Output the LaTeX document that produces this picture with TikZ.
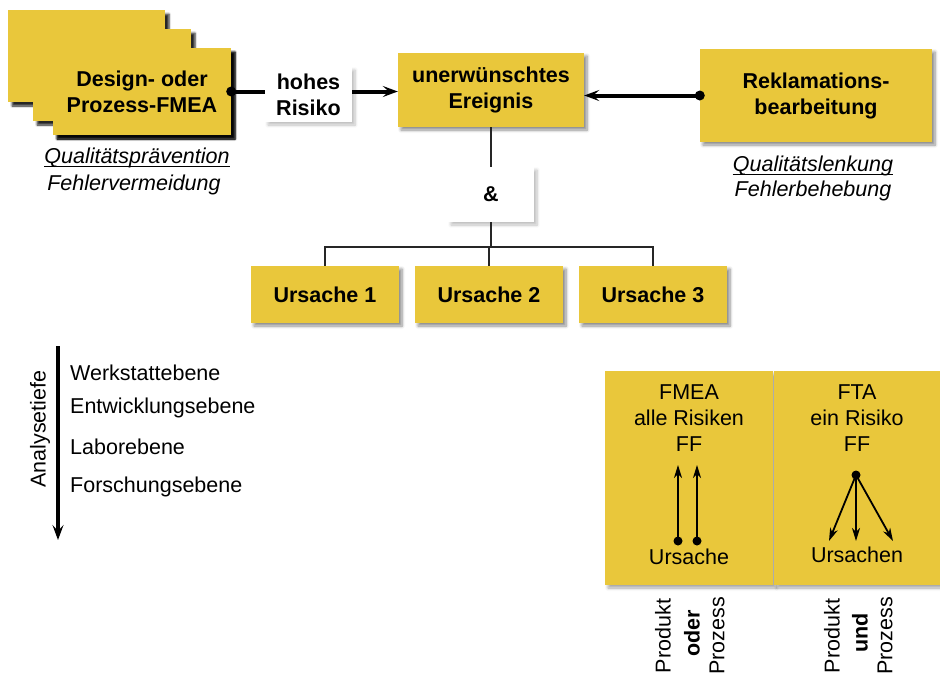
\documentclass[tikz,border=0pt]{standalone}
\usepackage{fontspec}
\setmainfont{Liberation Sans}
\usetikzlibrary{shadows.blur,arrows.meta}
\definecolor{gelb}{RGB}{233,199,59}
\tikzset{
  yellowbox/.style={fill=gelb, draw=none, inner sep=0pt, align=center,
    font=\fontsize{21.5}{26}\selectfont\bfseries,
    blur shadow={shadow xshift=3pt, shadow yshift=-3pt, shadow blur radius=3pt, shadow blur steps=6, shadow opacity=45}},
  stackbox/.style={fill=gelb, draw=none, inner sep=0pt,
    blur shadow={shadow xshift=4pt, shadow yshift=-4pt, shadow blur radius=2pt, shadow blur steps=5, shadow opacity=85}},
  whitebox/.style={fill=white, draw=none, inner sep=0pt, align=center,
    font=\fontsize{21.5}{26}\selectfont\bfseries,
    blur shadow={shadow xshift=3pt, shadow yshift=-3pt, shadow blur radius=3pt, shadow blur steps=6, shadow opacity=25}},
  panel/.style={fill=gelb, draw=none, inner sep=0pt,
    blur shadow={shadow xshift=3pt, shadow yshift=-3pt, shadow blur radius=3pt, shadow blur steps=6, shadow opacity=35}},
  plain/.style={font=\fontsize{21.5}{26}\selectfont, align=center, inner sep=0pt},
  italic/.style={font=\fontsize{21.5}{26}\selectfont\itshape, align=center, inner sep=0pt},
  boldplain/.style={font=\fontsize{21.5}{26}\selectfont\bfseries, align=center, inner sep=0pt},
  mainline/.style={line width=4pt},
  thinline/.style={line width=1.4pt, draw=black!85},
  tip/.style={-{Stealth[length=15pt,width=11pt,inset=6pt]}},
  smalltip/.style={line width=1.8pt, -{Stealth[length=13pt,width=8pt,inset=4pt]}},
}
\begin{document}
\begin{tikzpicture}[x=1pt,y=-1pt]
\useasboundingbox (0,0) rectangle (940,675);

% stacked FMEA boxes
\node[stackbox, minimum width=157pt, minimum height=92pt] (back1) at (86.5,56) {};
\node[stackbox, minimum width=158pt, minimum height=92pt] (back2) at (112,75) {};
\node[yellowbox, stackbox, minimum width=178pt, minimum height=87pt] (front) at (142,91.5) {Design- oder\\Prozess-FMEA};

\node[whitebox, minimum width=87pt, minimum height=55pt] (hohes) at (308.5,94.5) {hohes\\Risiko};
\node[yellowbox, minimum width=186pt, minimum height=74pt] (unerw) at (491,90) {unerwünschtes\\Ereignis};
\node[yellowbox, minimum width=232pt, minimum height=93pt] (rekl) at (816,95.5) {Reklamations-\\bearbeitung};

\node[italic] (qp) at (137,158) {Qualitätsprävention};
\draw[line width=1pt] ([yshift=-2.5pt]qp.base west) -- ([yshift=-2.5pt]qp.base east);
\node[italic] (fv) at (134,185) {Fehlervermeidung};
\node[italic] (ql) at (813,166) {Qualitätslenkung};
\draw[line width=1pt] ([yshift=-2.5pt]ql.base west) -- ([yshift=-2.5pt]ql.base east);
\node[italic] (fb) at (813,191) {Fehlerbehebung};

\node[whitebox, minimum width=86pt, minimum height=55pt] (amp) at (491,194.5) {\&};

\node[yellowbox, minimum width=148pt, minimum height=57pt] (u1) at (325,294.5) {Ursache 1};
\node[yellowbox, minimum width=148pt, minimum height=57pt] (u2) at (489,294.5) {Ursache 2};
\node[yellowbox, minimum width=148pt, minimum height=57pt] (u3) at (653,294.5) {Ursache 3};

% main connectors
\draw[mainline] (front.east) -- (front.east -| hohes.west);
\fill (front.east) circle (5pt);
\draw[mainline, tip] (hohes.east |- front.east) -- (unerw.west |- front.east);
\draw[mainline, tip] (rekl.west) -- (rekl.west -| unerw.east);
\fill (rekl.west) circle (5pt);

% tree
\coordinate (j) at (491,247);
\draw[thinline] (unerw.south) -- (amp.north);
\draw[thinline] (amp.south) -- (j);
\draw[thinline] (u1.north) |- (j) -| (u3.north);
\draw[thinline] (j -| u2.north) -- (u2.north);

% Analysetiefe
\coordinate (at) at (58,346);
\coordinate (ab) at (58,540);
\draw[mainline, tip] (at) -- (ab);
\node[plain, rotate=90] (al) at (40,429) {Analysetiefe};
\node[plain, anchor=west] (w1) at (70,373) {Werkstattebene};
\node[plain, anchor=west] (w2) at (70,408) {Entwicklungsebene};
\node[plain, anchor=west] (w3) at (70,447) {Laborebene};
\node[plain, anchor=west] (w4) at (70,487) {Forschungsebene};

% FMEA / FTA panels
\node[panel, minimum width=168pt, minimum height=214pt] (pfmea) at (689,478) {};
\node[panel, minimum width=166pt, minimum height=214pt] (pfta) at (857,478) {};

\node[plain] (t1) at (689,418) {FMEA\\alle Risiken\\FF};
\node[plain] (t2) at (857,418) {FTA\\ein Risiko\\FF};
\node[plain] (us1) at (689,557) {Ursache};
\node[plain] (us2) at (857,555) {Ursachen};

\coordinate (a1s) at (678,541); \coordinate (a1e) at (678,465);
\coordinate (a2s) at (697,541); \coordinate (a2e) at (697,465);
\draw[smalltip] (a1s) -- (a1e);
\draw[smalltip] (a2s) -- (a2e);
\fill (a1s) circle (4.5pt);
\fill (a2s) circle (4.5pt);

\coordinate (fd) at (856,475);
\coordinate (f1) at (829,541);
\coordinate (f2) at (856,541);
\coordinate (f3) at (893,541);
\draw[smalltip] (fd) -- (f1);
\draw[smalltip] (fd) -- (f2);
\draw[smalltip] (fd) -- (f3);
\fill (fd) circle (4.5pt);

% rotated labels
\node[plain, rotate=90] (r1) at (663,636) {Produkt};
\node[boldplain, rotate=90] (r2) at (692,633) {oder};
\node[plain, rotate=90] (r3) at (717,636) {Prozess};
\node[plain, rotate=90] (r4) at (832,636) {Produkt};
\node[boldplain, rotate=90] (r5) at (860,633) {und};
\node[plain, rotate=90] (r6) at (885,636) {Prozess};
\end{tikzpicture}
\end{document}
